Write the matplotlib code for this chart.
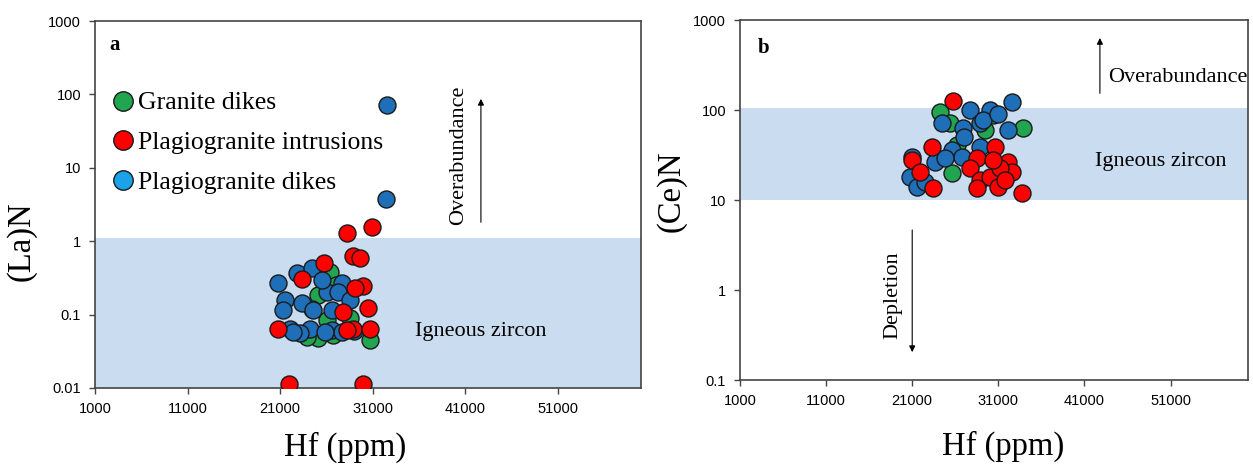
import matplotlib
matplotlib.use("Agg")
import matplotlib.pyplot as plt
from matplotlib.lines import Line2D
import numpy as np

# ---- data ----
# panel a: Hf (ppm) vs (La)N
a_granite_hf = [26390, 25100, 26070, 25100, 30720, 23910, 26720, 28560, 27000, 24500]
a_granite_la = [0.38, 0.185, 0.0844, 0.048, 0.0451, 0.0495, 0.0527, 0.090, 0.25, 0.12]

a_pdikes_hf = [20775, 22830, 24450, 21530, 21315, 23370, 24560, 26070, 27690, 27260,
               28560, 26610, 22070, 24230, 26610, 27690, 25850, 23150, 22400, 25500,
               29000, 32550, 32450]
a_pdikes_la = [0.269, 0.368, 0.431, 0.158, 0.115, 0.144, 0.115, 0.203, 0.269, 0.203,
               0.158, 0.115, 0.0637, 0.0637, 0.0617, 0.058, 0.058, 0.0561, 0.058, 0.30,
               0.060, 71.7, 3.76]

a_pintr_hf = [30930, 28230, 28880, 29640, 25750, 23370, 29960, 29100, 27800, 30500,
              20775, 28880, 30720, 28230, 21960, 29960]
a_pintr_la = [1.56, 1.29, 0.629, 0.59, 0.505, 0.306, 0.245, 0.230, 0.108, 0.123,
              0.0637, 0.0637, 0.0637, 0.0617, 0.01134, 0.01134]

# panel b: Hf (ppm) vs (Ce)N
b_granite_hf = [24230, 25390, 33870, 25620, 30380, 26200, 29500]
b_granite_ce = [95, 71.7, 63, 20, 88, 40.8, 60]

b_pdikes_hf = [27710, 30035, 32590, 24460, 26900, 28870, 32125, 23650, 20976, 20740,
               21560, 25620, 26780, 28870, 29220, 24810, 31000, 22500, 27000]
b_pdikes_ce = [100, 100, 123, 71.7, 63, 71.7, 60, 26.4, 30.0, 18.0,
               13.9, 35.9, 30.0, 38.8, 77, 29.3, 90, 16, 50]

b_pintr_hf = [25740, 23300, 20976, 21905, 23415, 30620, 28525, 27710, 28870, 30035,
              30960, 32125, 32590, 33750, 28525, 31200, 30380, 31780]
b_pintr_ce = [126, 38.8, 27.8, 20.5, 13.6, 38.8, 29.3, 22.7, 16.7, 18.0,
              13.9, 26.4, 20.5, 12.0, 13.6, 22.7, 27.8, 16.7]

xticks = [1000, 11000, 21000, 31000, 41000, 51000]
labels = ["Granite dikes", "Plagiogranite intrusions", "Plagiogranite dikes"]

green = "#22a550"
red = "#ff0000"
blue = "#1f6eb8"
blue_leg = "#1aa3e8"
band = "#cadcef"
serif = "Liberation Serif"
sans = "Liberation Sans"

fig = plt.figure(figsize=(12.53, 4.68), dpi=100)
ax1 = fig.add_axes([0.0758, 0.171, 0.4358, 0.784])
ax2 = fig.add_axes([0.5906, 0.188, 0.4054, 0.769])

mk = dict(s=150, edgecolors="#1a1a1a", linewidths=1.0, zorder=3)


def style(ax, ylim, yticks, ylabel, xlab_pos, ylab_pos):
    ax.set_yscale("log")
    ax.set_xlim(1000, 60000)
    ax.set_ylim(*ylim)
    ax.set_xticks(xticks)
    ax.set_xticklabels([str(t) for t in xticks], family=sans, fontsize=10.5)
    ax.set_yticks(yticks)
    ax.set_yticklabels([("%g" % t) for t in yticks], family=sans, fontsize=10.5)
    ax.minorticks_off()
    ax.tick_params(direction="out", length=4, width=1, color="#444444", pad=6)
    for s in ax.spines.values():
        s.set_color("#444444")
        s.set_linewidth(1.2)
    ax.set_xlabel("Hf (ppm)", family=serif, fontsize=23.5)
    ax.set_ylabel(ylabel, family=serif, fontsize=23.5)
    ax.xaxis.set_label_coords(*xlab_pos)
    ax.yaxis.set_label_coords(*ylab_pos)


# panel a
ax1.axhspan(0.01, 1.1, color=band, zorder=0, lw=0)
ax1.scatter(a_granite_hf, a_granite_la, c=green, **mk)
ax1.scatter(a_pdikes_hf, a_pdikes_la, c=blue, **mk)
ax1.scatter(a_pintr_hf, a_pintr_la, c=red, **mk)
style(ax1, (0.01, 1000), [0.01, 0.1, 1, 10, 100, 1000], "(La)N",
      (0.458, -0.12), (-0.106, 0.4))
ax1.text(2600, 470, "a", family=serif, fontsize=15, fontweight="bold", va="center")
ax1.annotate("", xy=(42700, 95), xytext=(42700, 1.66),
             arrowprops=dict(arrowstyle="-|>", color="black", lw=0.8, mutation_scale=9))
ax1.text(40300, 15, "Overabundance", family=serif, fontsize=16, rotation=90,
         ha="center", va="center")
ax1.text(42700, 0.058, "Igneous zircon", family=serif, fontsize=16,
         ha="center", va="center")

handles = [Line2D([], [], ls="none", marker="o", markersize=14, markerfacecolor=c,
                  markeredgecolor="#1a1a1a", markeredgewidth=1.0)
           for c in (green, red, blue_leg)]
ax1.legend(handles, labels, loc="upper left", bbox_to_anchor=(0.03, 0.808),
           frameon=False, prop=dict(family=serif, size=18.5), handlelength=0.9,
           handletextpad=0.15, labelspacing=0.65, borderaxespad=0, borderpad=0)

# panel b
ax2.axhspan(10, 105, color=band, zorder=0, lw=0)
ax2.scatter(b_granite_hf, b_granite_ce, c=green, **mk)
ax2.scatter(b_pdikes_hf, b_pdikes_ce, c=blue, **mk)
ax2.scatter(b_pintr_hf, b_pintr_ce, c=red, **mk)
style(ax2, (0.1, 1000), [0.1, 1, 10, 100, 1000], "(Ce)N",
      (0.518, -0.142), (-0.106, 0.525))
ax2.text(3000, 490, "b", family=serif, fontsize=15, fontweight="bold", va="center")
ax2.annotate("", xy=(42800, 680), xytext=(42800, 143),
             arrowprops=dict(arrowstyle="-|>", color="black", lw=0.8, mutation_scale=9))
ax2.text(43700, 233, "Overabundance", family=serif, fontsize=16, ha="left", va="center")
ax2.text(42200, 27, "Igneous zircon", family=serif, fontsize=16, ha="left", va="center")
ax2.annotate("", xy=(21000, 0.19), xytext=(21000, 5.0),
             arrowprops=dict(arrowstyle="-|>", color="black", lw=0.8, mutation_scale=9))
ax2.text(18800, 0.88, "Depletion", family=serif, fontsize=16, rotation=90,
         ha="center", va="center")

fig.savefig("out.png", dpi=100)
